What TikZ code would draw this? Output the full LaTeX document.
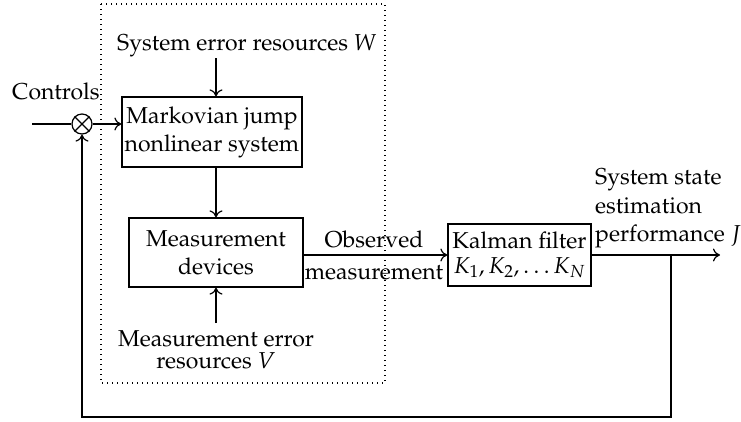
\documentclass[tikz,border=0pt]{standalone}
\usepackage[T1]{fontenc}
\usepackage{mathpazo}
\usetikzlibrary{arrows.meta}
\begin{document}
\begin{tikzpicture}[x=1pt,y=-1pt,
  ln/.style={line width=1.2pt},
  box/.style={draw, line width=1.2pt, inner sep=0pt, align=center, font=\fontsize{23}{28}\selectfont},
  lbl/.style={inner sep=0pt, font=\fontsize{23}{28}\selectfont},
  arr/.style={ln, -{Computer Modern Rightarrow[length=7pt,width=13pt]}},
  dotbox/.style={line width=1.4pt, dash pattern=on 1.2pt off 3.8pt}]
\useasboundingbox (0,0) rectangle (741,421);
% dotted enclosure
\draw[dotbox] (101,4) rectangle (385,383);
% blocks
\node[box, minimum width=180pt, minimum height=70pt] (mark) at (212,132) {Markovian jump\\nonlinear system};
\node[box, minimum width=174pt, minimum height=69pt] (meas) at (216,252.5) {Measurement\\devices};
\node[box, minimum width=143pt, minimum height=62pt, font=\fontsize{23}{25}\selectfont] (kal) at (519.5,255) {Kalman filter\\$K_1, K_2, \ldots K_N$};
\node[draw, circle, ln, minimum size=20pt, inner sep=0pt] (sum) at (82,124) {};
\draw[ln] (sum.north west) -- (sum.south east);
\draw[ln] (sum.north east) -- (sum.south west);
% labels
\node[lbl, anchor=base west] (ctl) at (12,99) {Controls};
\node[lbl, anchor=base west] (sew) at (117,50) {System error resources $W$};
\node[lbl, anchor=base] (mer1) at (216,346) {Measurement error};
\node[lbl, anchor=base] (mer2) at (216,368) {resources $V$};
\node[lbl, anchor=base] (obs1) at (374,247) {Observed};
\node[lbl, anchor=base] (obs2) at (374,279) {measurement};
\node[lbl, anchor=base west] (sse1) at (595,184) {System state};
\node[lbl, anchor=base west] (sse2) at (595,213) {estimation};
\node[lbl, anchor=base west] (sse3) at (595,241) {performance $J$};
% coordinates
\coordinate (in) at (32,124);
\coordinate (wtop) at (216,58);
\coordinate (vbot) at (216,323);
\coordinate (out) at (720,255);
\coordinate (fb) at (671,255);
\coordinate (fbr) at (671,417);
\coordinate (fbl) at (82,417);
% connectors
\draw[ln] (in) -- (sum.west);
\draw[arr] (sum.east) -- (sum.east -| mark.west);
\draw[arr] (wtop) -- (wtop |- mark.north);
\draw[arr] (mark.south -| meas.north) -- (meas.north);
\draw[arr] (vbot) -- (meas.south);
\draw[arr] (meas.east |- kal.west) -- (kal.west);
\draw[arr] (kal.east) -- (out);
\draw[arr] (fb) -- (fbr) -- (fbl) -- (sum.south);
\end{tikzpicture}
\end{document}
